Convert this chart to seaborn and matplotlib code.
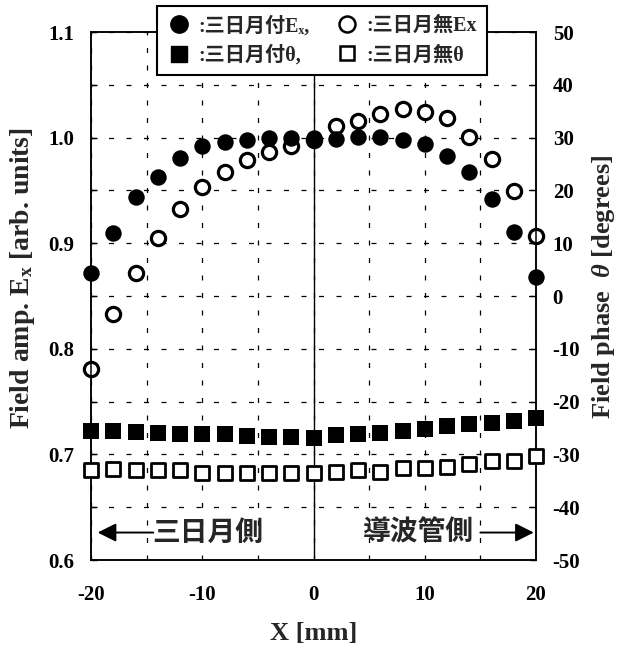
import numpy as np
import pandas as pd
import matplotlib
matplotlib.use("Agg")
import matplotlib.pyplot as plt
import seaborn as sns
from matplotlib.lines import Line2D
from matplotlib.ticker import MultipleLocator, FormatStrFormatter

# ---------------- data ----------------
x_mm = [-20, -18, -16, -14, -12, -10, -8, -6, -4, -2, 0,
        2, 4, 6, 8, 10, 12, 14, 16, 18, 20]
amp_with = [0.872, 0.910, 0.944, 0.963, 0.981, 0.992, 0.996, 0.998, 1.000, 1.000, 1.000,
            0.999, 1.001, 1.001, 0.998, 0.994, 0.983, 0.967, 0.942, 0.911, 0.868]
amp_without = [0.781, 0.833, 0.872, 0.905, 0.932, 0.953, 0.967, 0.979, 0.986, 0.992, 0.998,
               1.011, 1.016, 1.022, 1.027, 1.024, 1.019, 1.001, 0.980, 0.949, 0.907]
phase_with = [-25.6, -25.6, -25.8, -25.9, -26.1, -26.2, -26.2, -26.6, -26.7, -26.7, -26.8,
              -26.4, -26.2, -25.9, -25.6, -25.1, -24.6, -24.3, -24.0, -23.7, -23.2]
phase_without = [-32.9, -32.8, -33.0, -33.0, -32.9, -33.5, -33.5, -33.5, -33.6, -33.6, -33.5,
                 -33.4, -32.9, -33.3, -32.6, -32.6, -32.4, -31.9, -31.3, -31.3, -30.3]

left_ticks = [0.6, 0.7, 0.8, 0.9, 1.0, 1.1]
right_ticks = [-50, -40, -30, -20, -10, 0, 10, 20, 30, 40, 50]
x_ticks = [-20, -10, 0, 10, 20]

df = pd.DataFrame({"x": x_mm, "amp_with": amp_with, "amp_without": amp_without,
                   "phase_with": phase_with, "phase_without": phase_without})

# ---------------- style ----------------
sns.set_theme(style="white")
plt.rcParams["font.family"] = ["Liberation Serif", "Noto Sans CJK JP", "DejaVu Serif", "DejaVu Sans"]
plt.rcParams["font.weight"] = "bold"
plt.rcParams["axes.unicode_minus"] = False
plt.rcParams["mathtext.fontset"] = "custom"
plt.rcParams["mathtext.rm"] = "Liberation Serif:bold"
plt.rcParams["mathtext.it"] = "Liberation Serif:italic:bold"
plt.rcParams["mathtext.bf"] = "Liberation Serif:bold"

fig = plt.figure(figsize=(6.29, 6.48), dpi=100)
ax = fig.add_axes([91 / 629, 1 - 560 / 648, (536 - 91) / 629, (560 - 32) / 648])
ax2 = ax.twinx()

# grid
ax.set_xlim(-20, 20)
ax.set_ylim(0.6, 1.1)
ax2.set_ylim(-50, 50)
ax.xaxis.set_major_locator(MultipleLocator(10))
ax.xaxis.set_minor_locator(MultipleLocator(5))
ax.yaxis.set_major_locator(MultipleLocator(0.1))
ax.yaxis.set_minor_locator(MultipleLocator(0.05))
ax.yaxis.set_major_formatter(FormatStrFormatter("%.1f"))
ax2.yaxis.set_major_locator(MultipleLocator(10))
ax.grid(True, which="both", color="black", linewidth=0.9, linestyle=(0, (4, 10)))
ax.set_axisbelow(True)
ax.axvline(0, color="black", linewidth=1.0, zorder=1)

# data marks
sns.scatterplot(data=df, x="x", y="amp_without", ax=ax, marker="o", s=105,
                color="white", edgecolor="black", linewidth=2.3, clip_on=False, zorder=3)
sns.scatterplot(data=df, x="x", y="amp_with", ax=ax, marker="o", s=140,
                color="black", edgecolor="black", linewidth=0, clip_on=False, zorder=4)
sns.scatterplot(data=df, x="x", y="phase_with", ax=ax2, marker="s", s=140,
                color="black", edgecolor="black", linewidth=0, clip_on=False, zorder=4)
sns.scatterplot(data=df, x="x", y="phase_without", ax=ax2, marker="s", s=100,
                color="white", edgecolor="black", linewidth=2.0, clip_on=False, zorder=3)

# ticks and labels
ax.set_xticks(x_ticks)
ax.set_yticks(left_ticks)
ax2.set_yticks(right_ticks)
for a in (ax, ax2):
    a.tick_params(axis="both", which="both", direction="in", length=4, width=1,
                  labelsize=15, colors="black")
    for s in a.spines.values():
        s.set_color("black")
        s.set_linewidth(1.1)
ax.tick_params(axis="x", pad=18)
ax.tick_params(axis="y", pad=12)
ax2.tick_params(axis="y", pad=12)
for lab in ax.get_xticklabels() + ax.get_yticklabels() + ax2.get_yticklabels():
    lab.set_fontweight("bold")

ax.set_xlabel("X [mm]", fontsize=19, fontweight="bold", labelpad=12)
ax.set_ylabel("Field amp. E$_\\mathrm{x}$ [arb. units]", fontsize=20, fontweight="bold")
ax2.set_ylabel("Field phase  $\\theta$ [degrees]", fontsize=19, fontweight="bold")
ax.yaxis.set_label_coords(-0.121, 0.534)
ax2.yaxis.set_label_coords(1.121, 0.517)

# side annotations
cjk = ["Noto Sans CJK JP", "DejaVu Sans"]
ax.text(-9.5, 0.626, "三日月側", ha="center", va="center", fontsize=20,
        family=cjk, fontweight="bold", zorder=5)
ax.text(9.4, 0.626, "導波管側", ha="center", va="center", fontsize=20,
        family=cjk, fontweight="bold", zorder=5)
arrow = dict(arrowstyle="-|>", color="black", lw=1.4, mutation_scale=28, shrinkA=0, shrinkB=0)
ax.annotate("", xy=(-19.4, 0.626), xytext=(-14.4, 0.626), arrowprops=arrow)
ax.annotate("", xy=(19.8, 0.626), xytext=(15.0, 0.626), arrowprops=arrow)

# legend
handles = [
    Line2D([], [], marker="o", linestyle="none", markersize=12.5, markerfacecolor="black",
           markeredgecolor="black"),
    Line2D([], [], marker="s", linestyle="none", markersize=11.5, markerfacecolor="black",
           markeredgecolor="black"),
    Line2D([], [], marker="o", linestyle="none", markersize=11.5, markerfacecolor="white",
           markeredgecolor="black", markeredgewidth=1.8),
    Line2D([], [], marker="s", linestyle="none", markersize=10.5, markerfacecolor="white",
           markeredgecolor="black", markeredgewidth=1.8),
]
labels = [":三日月付Eₓ,", ":三日月付θ,", ":三日月無Ex", ":三日月無θ"]
leg = fig.legend(handles, labels, ncol=2, loc="upper center",
                 bbox_to_anchor=(322 / 629, 1 - 6 / 648),
                 prop={"family": ["Liberation Serif", "Noto Sans CJK JP", "DejaVu Serif", "DejaVu Sans"],
                       "weight": "bold", "size": 14.5},
                 frameon=True, fancybox=False, shadow=False, framealpha=1,
                 edgecolor="black", facecolor="white", handletextpad=0.35,
                 handlelength=1.2, columnspacing=1.3, borderpad=0.48, labelspacing=0.45,
                 borderaxespad=0)
leg.get_frame().set_linewidth(1.5)
leg.set_zorder(10)

fig.savefig("out.png", dpi=100)
